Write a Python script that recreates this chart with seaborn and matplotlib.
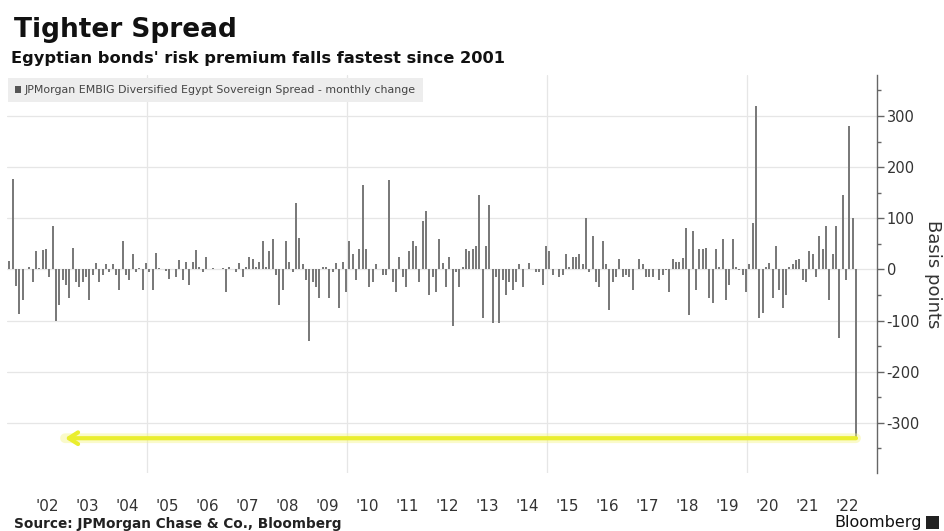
import numpy as np
import pandas as pd
import seaborn as sns
import matplotlib.pyplot as plt
from matplotlib.patches import Rectangle

# Monthly change in the JPMorgan EMBIG Diversified Egypt sovereign spread (bp)
chg_2001 = [16, 176, -33, -88, -59, 0]          # Jul - Dec
chg_2002 = [5, -25, 35, 3, 38, 40, -15, 85, -100, -70, -20, -30]
chg_2003 = [-55, 42, -25, -35, -25, -15, -60, -10, 12, -25, -10, 10]
chg_2004 = [-5, 10, -10, -40, 55, -10, -20, 30, -5, 2, -40, 12]
chg_2005 = [-5, -40, 32, 2, 0, -3, -18, 0, -15, 18, -20, 15]
chg_2006 = [-30, 15, 38, 5, -5, 25, 0, 2, 0, 0, 2, -45]
chg_2007 = [5, 0, -5, 12, -15, 5, 25, 20, 5, 15, 55, 5]
chg_2008 = [35, 60, -10, -70, -40, 55, 15, -5, 130, 62, 10, -20]
chg_2009 = [-140, -25, -35, -55, 5, 5, -55, -5, 12, -75, 15, -45]
chg_2010 = [55, 30, -20, 40, 165, 40, -35, -25, 10, 0, -10, -10]
chg_2011 = [175, -25, -45, 25, -15, -35, 35, 55, 45, -25, 95, 115]
chg_2012 = [-50, -15, -45, 60, 12, -35, 25, -110, -5, -35, 5, 40]
chg_2013 = [35, 40, 45, 145, -95, 45, 125, -105, -15, -105, -20, -50]
chg_2014 = [-25, -40, -25, 10, -35, 0, 12, 0, -5, -5, -30, 45]
chg_2015 = [35, -10, 0, -15, -10, 30, 5, 25, 25, 30, 10, 100]
chg_2016 = [-5, 65, -25, -35, 55, 10, -80, -25, -15, 20, -15, -10]
chg_2017 = [-15, -40, 0, 20, 10, -15, -15, -15, 0, -20, -10, -2]
chg_2018 = [-45, 20, 15, 15, 22, 80, -90, 75, -40, 40, 40, 42]
chg_2019 = [-55, -65, 40, 5, 60, -60, -30, 60, 5, -2, -10, -45]
chg_2020 = [10, 90, 320, -95, -85, 5, 12, -55, 45, -40, -75, -50]
chg_2021 = [5, 10, 18, 20, -20, -25, 35, 30, -15, 65, 40, 85]
chg_2022 = [-60, 30, 85, -135, 145, -20, 280, 100, -330]   # Jan - Sep

first_month = (2001, 7)
year_labels = ["'%02d" % (y % 100) for y in range(2002, 2023)]
y_ticks = [-300, -200, -100, 0, 100, 200, 300]
series_name = "JPMorgan EMBIG Diversified Egypt Sovereign Spread - monthly change"

# ---- assemble a monthly series; bars sit near each month's end ----
by_year = [chg_2001, chg_2002, chg_2003, chg_2004, chg_2005, chg_2006, chg_2007,
           chg_2008, chg_2009, chg_2010, chg_2011, chg_2012, chg_2013, chg_2014,
           chg_2015, chg_2016, chg_2017, chg_2018, chg_2019, chg_2020, chg_2021,
           chg_2022]
pos, vals = [], []
for i, yvals in enumerate(by_year):
    year = first_month[0] + i
    m0 = first_month[1] if i == 0 else 1
    for j, v in enumerate(yvals):
        pos.append(round(year + (m0 + j - 0.3) / 12.0, 6))
        vals.append(v)
df = pd.DataFrame({"pos": pos, "change": vals})

sns.set_theme(style="white")
plt.rcParams["font.family"] = ["DejaVu Sans"]
plt.rcParams["axes.unicode_minus"] = False

W, H = 944, 531
fig = plt.figure(figsize=(W / 100, H / 100), dpi=100)
fig.patch.set_facecolor("white")
ax = fig.add_axes([7 / W, 1 - 473 / H, (877 - 7) / W, (473 - 75) / H])

sns.barplot(data=df, x="pos", y="change", native_scale=True, color="#7a7a7a",
            saturation=1, width=0.5, errorbar=None, linewidth=0, ax=ax,
            label=series_name)

ax.set_xlim(2001.5, 2023.25)
ax.set_ylim(-398, 380)
ax.set_axisbelow(True)

# grid
ax.set_yticks(y_ticks)
ax.set_yticks(np.arange(-350, 400, 100), minor=True)
ax.grid(axis="y", which="major", color="#e6e6e6", lw=0.9)
for yr in (2005, 2010, 2015, 2020):
    ax.axvline(yr, color="#e6e6e6", lw=0.9, zorder=0)

# axes styling
for side in ("top", "left", "bottom"):
    ax.spines[side].set_visible(False)
ax.spines["right"].set_color("#666666")
ax.spines["right"].set_linewidth(1.0)
ax.yaxis.tick_right()
ax.set_yticklabels([str(v) for v in y_ticks])
ax.tick_params(axis="y", which="major", length=5, width=1, color="#666666",
               labelsize=10.5, labelcolor="#333333", pad=2)
ax.tick_params(axis="y", which="minor", length=3, width=1, color="#666666")
ax.set_xticks([y + 0.5 for y in range(2002, 2023)])
ax.set_xticklabels(year_labels)
ax.tick_params(axis="x", length=0, labelsize=11, labelcolor="#333333", pad=19)
ax.set_xlabel("")
ax.set_ylabel("Basis points", rotation=270, fontsize=13, color="#333333")
ax.yaxis.set_label_position("right")
ax.yaxis.set_label_coords(1.0645, 0.5)
ax.yaxis.label.set_horizontalalignment("center")
ax.yaxis.label.set_verticalalignment("center")

# highlight arrow from the latest move back to the early 2000s
low = df["change"].iloc[-1]
last_x = df["pos"].iloc[-1]
ax.annotate("", xy=(2002.95, low), xytext=(last_x, low),
            arrowprops=dict(arrowstyle="-", color="#f4f58a", lw=7, alpha=0.45,
                            shrinkA=0, shrinkB=0), zorder=4)
ax.annotate("", xy=(2002.95, low), xytext=(last_x, low),
            arrowprops=dict(arrowstyle="->,head_length=0.55,head_width=0.35",
                            color="#eaee2e", lw=3, shrinkA=0, shrinkB=0),
            zorder=5)

# legend strip
leg = ax.legend(loc="lower left", bbox_to_anchor=(8 / W, 1 - 102 / H),
                bbox_transform=fig.transFigure, frameon=True, fancybox=False,
                facecolor="#ededed", edgecolor="none", framealpha=1,
                fontsize=7.9, handlelength=0.6, handleheight=0.6,
                handletextpad=0.3, borderpad=0.62, borderaxespad=0,
                labelcolor="#444444")
for h in leg.legend_handles:
    h.set_color("#555555")

# titles
fig.text(14 / W, 1 - 37 / H, "Tighter Spread", fontsize=19, weight="bold",
         color="#111111", va="baseline")
fig.text(11 / W, 1 - 63 / H, "Egyptian bonds' risk premium falls fastest since 2001",
         fontsize=11.7, weight="bold", color="#111111", va="baseline")

# footer
fig.text(14 / W, 1 - 524 / H, "Source: JPMorgan Chase & Co., Bloomberg",
         fontsize=9.8, weight="bold", color="#222222", va="center")
fig.text(922 / W, 1 - 522 / H, "Bloomberg", fontsize=11.5, color="#111111",
         ha="right", va="center")
fig.patches.append(Rectangle((926 / W, 1 - 529 / H), 13 / W, 13 / H,
                             transform=fig.transFigure, facecolor="#222222",
                             edgecolor="none"))

fig.savefig("out.png", dpi=100)
